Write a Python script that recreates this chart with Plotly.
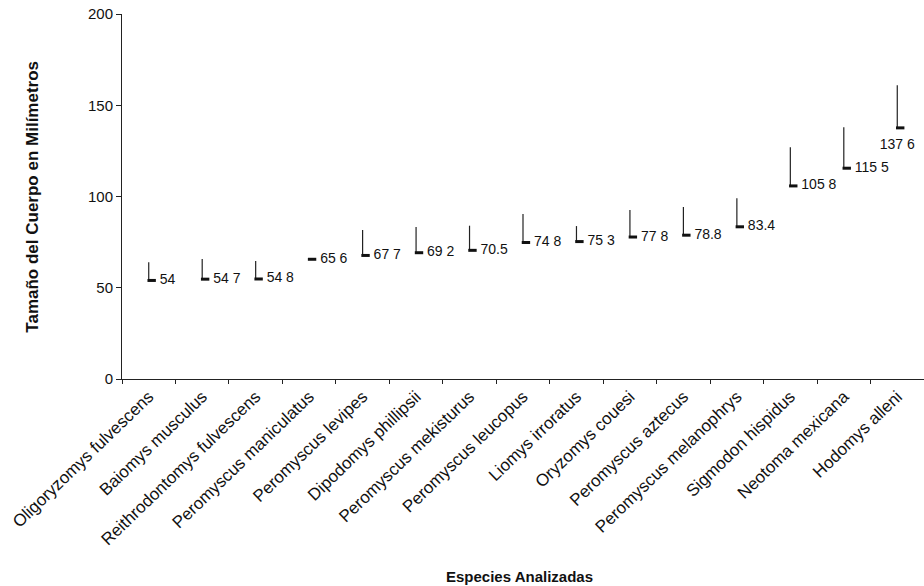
import plotly.graph_objects as go

species = [
    "Oligoryzomys fulvescens", "Baiomys musculus", "Reithrodontomys fulvescens",
    "Peromyscus maniculatus", "Peromyscus levipes", "Dipodomys phillipsii",
    "Peromyscus mekisturus", "Peromyscus leucopus", "Liomys irroratus",
    "Oryzomys couesi", "Peromyscus aztecus", "Peromyscus melanophrys",
    "Sigmodon hispidus", "Neotoma mexicana", "Hodomys alleni",
]
mean_size = [54.0, 54.7, 54.8, 65.6, 67.7, 69.2, 70.5, 74.8, 75.3, 77.8, 78.8, 83.4, 105.8, 115.5, 137.6]
upper_size = [64.0, 65.7, 64.7, 66.0, 81.6, 83.3, 84.0, 90.4, 83.8, 92.6, 94.2, 99.0, 127.0, 138.0, 161.0]
value_labels = ["54", "54 7", "54 8", "65 6", "67 7", "69 2", "70.5", "74 8", "75 3",
                "77 8", "78.8", "83.4", "105 8", "115 5", "137 6"]
label_pos = ["middle right"] * 14 + ["bottom center"]
y_ticks = [0, 50, 100, 150, 200]

FONT = "Liberation Sans, Arial, sans-serif"
n = len(species)
marker_shift = 0.055  # dash drawn just right of its bar, as in the original

fig = go.Figure()
# upper bars from the mean
fig.add_trace(go.Scatter(
    x=species, y=mean_size,
    mode="markers",
    marker=dict(size=1, opacity=0),
    error_y=dict(type="data", symmetric=False,
                 array=[u - m for u, m in zip(upper_size, mean_size)],
                 arrayminus=[0] * n,
                 width=0, thickness=1.2, color="#222"),
    cliponaxis=False, showlegend=False, hoverinfo="skip",
))
# mean dashes (on an overlaid, slightly shifted category axis)
fig.add_trace(go.Scatter(
    x=species, y=mean_size, xaxis="x2",
    mode="markers",
    marker=dict(symbol="line-ew", size=6, color="#111", line=dict(width=3, color="#111")),
    cliponaxis=False, showlegend=False,
))
# value labels (invisible larger marker gives the gap)
fig.add_trace(go.Scatter(
    x=species, y=mean_size,
    mode="markers+text",
    text=value_labels, textposition=label_pos,
    textfont=dict(family=FONT, size=14, color="#111"),
    marker=dict(size=16, opacity=0),
    cliponaxis=False, showlegend=False, hoverinfo="skip",
))

fig.update_layout(
    width=924, height=586,
    margin=dict(l=122, r=0, t=14, b=207),
    paper_bgcolor="white", plot_bgcolor="white",
    font=dict(family=FONT, color="#111"),
    xaxis=dict(
        type="category", range=[-0.5, n - 0.5],
        showgrid=False, zeroline=False,
        showline=True, linecolor="#222", linewidth=1,
        ticks="outside", ticklen=4, tickcolor="#222", tickson="boundaries",
        tickangle=-44, tickfont=dict(family=FONT, size=17, color="#111"),
    ),
    xaxis2=dict(
        type="category", overlaying="x", anchor="y",
        range=[-0.5 - marker_shift, n - 0.5 - marker_shift], visible=False,
    ),
    yaxis=dict(
        range=[0, 200], tickvals=y_ticks, showgrid=False, zeroline=False,
        showline=True, linecolor="#222", linewidth=1,
        ticks="outside", ticklen=5, tickcolor="#222",
        tickfont=dict(family=FONT, size=15, color="#111"),
    ),
    annotations=[
        dict(text="<b>Tamaño del Cuerpo en Milímetros</b>", xref="paper", yref="paper",
             x=-0.112, y=0.5, xanchor="center", yanchor="middle", textangle=-90,
             showarrow=False, font=dict(family=FONT, size=17, color="#111")),
        dict(text="<b>Especies Analizadas</b>", xref="paper", yref="paper",
             x=0.496, y=-0.542, xanchor="center", yanchor="middle",
             showarrow=False, font=dict(family=FONT, size=15, color="#111")),
    ],
)

fig.write_html("out.html", config={"displayModeBar": False},
               post_script="document.body.style.margin='0';document.body.style.overflow='hidden';")
